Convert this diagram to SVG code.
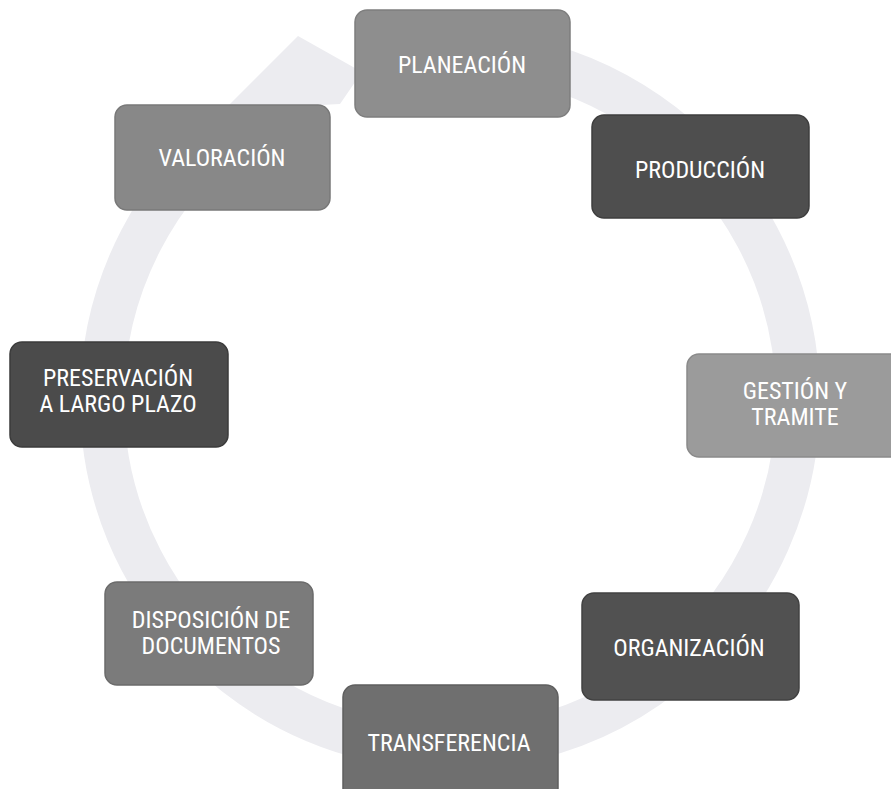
<svg xmlns="http://www.w3.org/2000/svg" width="891" height="789" viewBox="0 0 891 789">
<style>
.ring{fill:none;stroke:#ececf0;stroke-width:44}
.head{fill:#ececf0}
.box{stroke-width:1.5}
.t{font-family:"Liberation Sans Narrow","Roboto Condensed","Liberation Sans",Arial,sans-serif;font-size:24px;fill:#ffffff;text-anchor:middle}
</style>
<rect width="891" height="789" fill="#ffffff"/>
<g id="connectors">
<path class="ring" d="M 510.4 57.3 A 348 348 0 1 1 235.7 125.8"/>
<polygon class="head" points="224,110 298,36 362,72 340,104"/>
</g>
<g id="planeacion">
<rect class="box" x="355" y="10" width="215" height="107" rx="12" fill="#8e8e8e" stroke="#7e7e7e"/>
<text class="t" x="462" y="73">PLANEACIÓN</text>
</g>
<g id="produccion">
<rect class="box" x="592" y="115" width="217" height="103" rx="12" fill="#4e4e4e" stroke="#3e3e3e"/>
<text class="t" x="700" y="178">PRODUCCIÓN</text>
</g>
<g id="gestion">
<rect class="box" x="687" y="354" width="215" height="103" rx="12" fill="#9b9b9b" stroke="#8a8a8a"/>
<text class="t" x="795" y="399">GESTIÓN Y</text>
<text class="t" x="795" y="425">TRAMITE</text>
</g>
<g id="organizacion">
<rect class="box" x="582" y="593" width="217" height="107" rx="12" fill="#515151" stroke="#414141"/>
<text class="t" x="689" y="656">ORGANIZACIÓN</text>
</g>
<g id="transferencia">
<rect class="box" x="343" y="685" width="215" height="115" rx="12" fill="#6f6f6f" stroke="#5f5f5f"/>
<text class="t" x="449" y="751">TRANSFERENCIA</text>
</g>
<g id="disposicion">
<rect class="box" x="105" y="582" width="208" height="103" rx="12" fill="#7b7b7b" stroke="#6b6b6b"/>
<text class="t" x="211" y="628">DISPOSICIÓN DE</text>
<text class="t" x="211" y="654">DOCUMENTOS</text>
</g>
<g id="preservacion">
<rect class="box" x="10" y="342" width="218" height="105" rx="12" fill="#4b4b4b" stroke="#3b3b3b"/>
<text class="t" x="118" y="386">PRESERVACIÓN</text>
<text class="t" x="118" y="412">A LARGO PLAZO</text>
</g>
<g id="valoracion">
<rect class="box" x="115" y="105" width="215" height="105" rx="12" fill="#888888" stroke="#787878"/>
<text class="t" x="222" y="166">VALORACIÓN</text>
</g>
</svg>
